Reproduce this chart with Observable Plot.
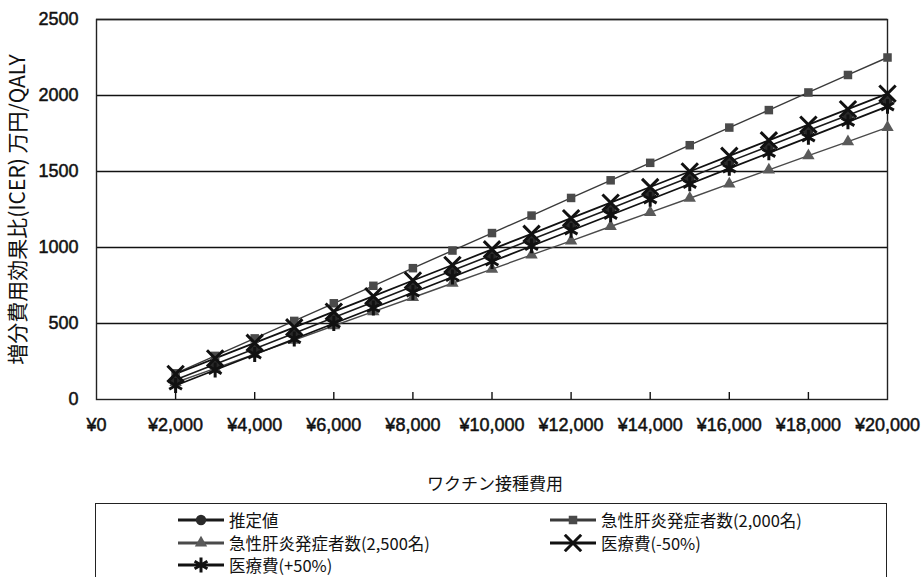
<!DOCTYPE html>
<html>
<head>
<meta charset="utf-8">
<script src="https://cdn.jsdelivr.net/npm/d3@7"></script>
<script src="https://cdn.jsdelivr.net/npm/@observablehq/plot@0.6"></script>
<style>
  html, body { margin: 0; padding: 0; background: #fff; }
  #wrap { position: relative; width: 922px; height: 577px; overflow: hidden; font-family: "Noto Sans CJK JP", "Noto Sans", sans-serif; color: #111; }
  #xlabel { position: absolute; left: 427px; top: 471px; font-size: 17px; line-height: 24px; white-space: nowrap; }
  #legend { position: absolute; left: 95px; top: 503px; width: 792px; height: 100px; border: 1.5px solid #222; box-sizing: border-box; }
  .item { position: absolute; display: flex; align-items: center; font-size: 16.5px; line-height: 18px; height: 18px; white-space: nowrap; }
  .item svg { margin-right: 5px; }
</style>
</head>
<body>
<div id="wrap">
  <div id="chart"></div>
  <div id="xlabel"></div>
  <div id="legend"></div>
</div>
<script>
// Vaccination cost (yen) on the x axis
const costs = [2000, 3000, 4000, 5000, 6000, 7000, 8000, 9000, 10000, 11000,
               12000, 13000, 14000, 15000, 16000, 17000, 18000, 19000, 20000];

// ICER (10,000 yen / QALY) for each scenario
const estimate   = [130, 232, 334, 436, 540, 642, 745, 848, 950, 1052, 1155, 1257, 1360, 1462, 1565, 1667, 1770, 1870, 1972];
const onset2000  = [172, 287, 402, 517, 633, 748, 864, 980, 1095, 1210, 1326, 1442, 1557, 1673, 1789, 1904, 2020, 2135, 2250];
const onset2500  = [112, 205, 298, 391, 485, 578, 671, 765, 858, 951, 1044, 1138, 1231, 1324, 1418, 1511, 1604, 1697, 1790];
const medMinus50 = [168, 270, 373, 475, 578, 680, 783, 885, 988, 1090, 1193, 1295, 1398, 1500, 1603, 1705, 1808, 1910, 2012];
const medPlus50  = [92, 194, 296, 398, 500, 602, 704, 806, 908, 1010, 1112, 1214, 1316, 1418, 1520, 1622, 1724, 1826, 1928];

const seriesNames = ["推定値", "急性肝炎発症者数(2,000名)", "急性肝炎発症者数(2,500名)", "医療費(-50%)", "医療費(+50%)"];
const xTicks = [0, 2000, 4000, 6000, 8000, 10000, 12000, 14000, 16000, 18000, 20000];
const yTicks = [0, 500, 1000, 1500, 2000, 2500];
const xTitle = "ワクチン接種費用";
const yTitle = "増分費用効果比(ICER) 万円/QALY";

// Drawing style per scenario
const styles = [
  {values: estimate,   symbol: "circle",   line: "#1a1a1a", fill: "#2a2a2a", stroke: "none", r: 5.2, sw: 1.6},
  {values: onset2000,  symbol: "square",   line: "#3a3a3a", fill: "#4a4a4a", stroke: "none", r: 4.8, sw: 1.4},
  {values: onset2500,  symbol: "triangle", line: "#4a4a4a", fill: "#5a5a5a", stroke: "none", r: 4.6, sw: 1.4},
  {values: medMinus50, symbol: "times",    line: "#111",    fill: "none",    stroke: "#111", r: 7.5, sw: 1.8},
  {values: medPlus50,  symbol: "asterisk", line: "#111",    fill: "none",    stroke: "#111", r: 7.0, sw: 1.8}
];

const rows = styles.map((s, i) => costs.map((c, j) => ({series: seriesNames[i], cost: c, icer: s.values[j]})));

const W = 922, H = 440, mT = 19, mB = 41, mL = 96, mR = 35;
const plotH = H - mT - mB;
const fmtYen = d => "¥" + d3.format(",")(d);

const drawOrder = [1, 2, 0, 4, 3];

const chart = Plot.plot({
  width: W,
  height: H,
  marginTop: mT,
  marginBottom: mB,
  marginLeft: mL,
  marginRight: mR,
  style: {fontFamily: "'Liberation Sans', Arial, sans-serif", fontSize: "18px", color: "#111", background: "#fff"},
  x: {domain: [0, 20000], ticks: xTicks, tickFormat: fmtYen, tickSize: 0, tickPadding: 19, label: null},
  y: {domain: [0, 2500], ticks: yTicks, tickFormat: d => String(d), tickSize: 0, tickPadding: 18, label: null},
  marks: [
    Plot.ruleY(yTicks.filter(d => d > 0), {stroke: "#111", strokeWidth: 1.4}),
    Plot.frame({stroke: "#222", strokeWidth: 1.4}),
    Plot.ruleX(xTicks.filter(d => d > 0 && d < 20000), {stroke: "#111", strokeWidth: 1.4, insetTop: plotH - 7}),
    ...drawOrder.map(i => Plot.line(rows[i], {x: "cost", y: "icer", stroke: styles[i].line, strokeWidth: styles[i].sw})),
    ...drawOrder.map(i => Plot.dot(rows[i], {
      x: "cost", y: "icer", symbol: () => styles[i].symbol, r: styles[i].r,
      fill: styles[i].fill, stroke: styles[i].stroke, strokeWidth: 3
    })),
    Plot.text([yTitle], {
      frameAnchor: "left", dx: -78, rotate: -90, textAnchor: "middle", text: d => d,
      fontSize: 21, fontFamily: "'Noto Sans CJK JP', sans-serif", fill: "#111"
    })
  ]
});
// slightly heavier tick labels
chart.querySelectorAll("[aria-label='y-axis tick label'] text, [aria-label='x-axis tick label'] text")
  .forEach(t => { t.setAttribute("stroke", "#111"); t.setAttribute("stroke-width", "0.5"); });
document.getElementById("chart").appendChild(chart);

document.getElementById("xlabel").textContent = xTitle;

// Legend entries: two columns, three rows
const legend = document.getElementById("legend");
const slots = [[82, 16], [454, 16], [82, 39], [454, 39], [82, 61]];
styles.forEach((s, i) => {
  const item = document.createElement("div");
  item.className = "item";
  item.style.left = slots[i][0] + "px";
  item.style.top = (slots[i][1] - 9) + "px";
  const sym = d3.symbol(d3["symbol" + s.symbol[0].toUpperCase() + s.symbol.slice(1)], Math.PI * s.r * s.r)();
  item.innerHTML =
    `<svg width="46" height="18"><line x1="0" x2="46" y1="9" y2="9" stroke="${s.line}" stroke-width="3"/>` +
    `<path d="${sym}" transform="translate(23,9)" fill="${s.fill}" stroke="${s.stroke}" stroke-width="3"/></svg>` +
    `<span>${seriesNames[i]}</span>`;
  legend.appendChild(item);
});
</script>
</body>
</html>
